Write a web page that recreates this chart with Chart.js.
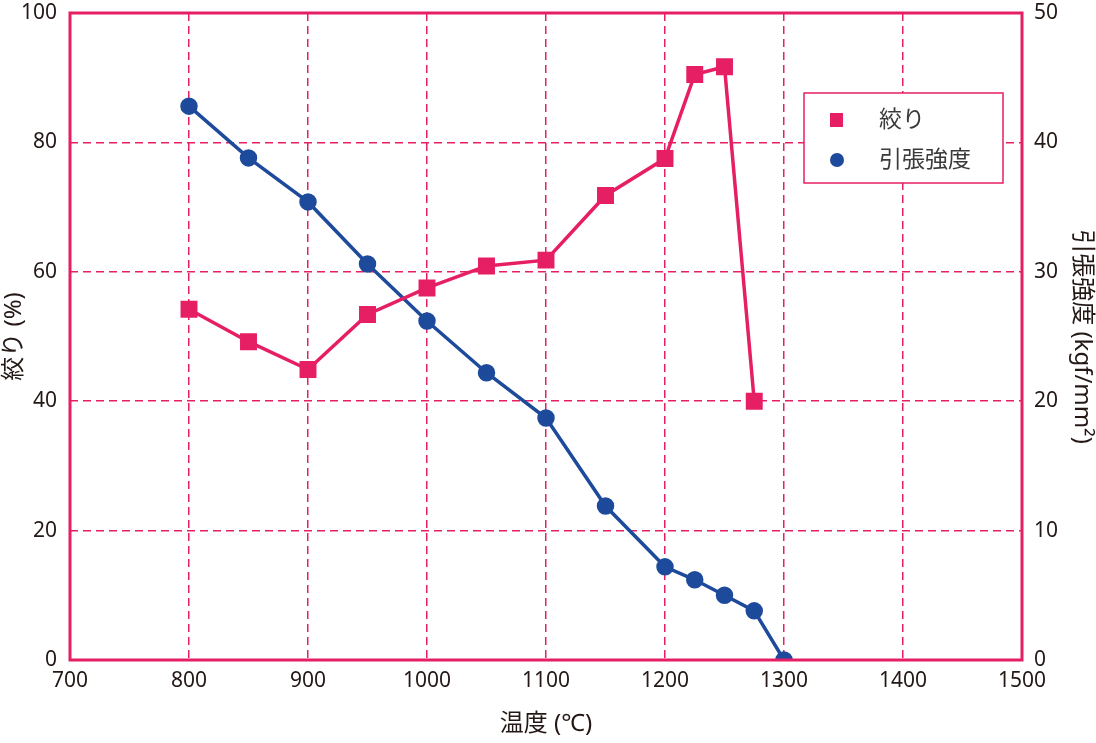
<!DOCTYPE html>
<html><head><meta charset="utf-8">
<script src="https://cdn.jsdelivr.net/npm/chart.js@4"></script>
<style>html,body{margin:0;padding:0;background:#fff}#wrap{width:1096px;height:743px}</style>
</head><body><div id="wrap"><canvas id="c" width="1096" height="743"></canvas></div>
<script>
const temps = [800, 850, 900, 950, 1000, 1050, 1100, 1150, 1200, 1225, 1250, 1275, 1300];
const shiboriValues = [54.2, 49.2, 44.9, 53.4, 57.5, 60.9, 61.8, 71.8, 77.5, 90.5, 91.7, 40.0];
const strengthValues = [42.8, 38.8, 35.4, 30.6, 26.2, 22.2, 18.7, 11.9, 7.2, 6.2, 5.0, 3.8, 0];
const xTicks = [700, 800, 900, 1000, 1100, 1200, 1300, 1400, 1500];
const leftTicks = [0, 20, 40, 60, 80, 100];
const rightTicks = [0, 10, 20, 30, 40, 50];
const labels = ['絞り', '引張強度'];
const axisTitles = {x: '温度 (℃)', y: '絞り (%)', y2: '引張強度 (kgf/mm²)'};

const RED = '#e61f64', BLUE = '#1d4a9b', TXT = '#231815';
const FONT = '"Noto Sans", "Noto Sans CJK JP", sans-serif';

const frame = {
  id: 'frame',
  afterDraw(chart) {
    const {ctx, chartArea: a} = chart;
    ctx.save();
    ctx.strokeStyle = RED; ctx.lineWidth = 3;
    ctx.strokeRect(a.left, a.top, a.right - a.left, a.bottom - a.top);
    // legend
    const lx = 804, ly = 93, lw = 199, lh = 90;
    ctx.fillStyle = '#fff'; ctx.fillRect(lx, ly, lw, lh);
    ctx.lineWidth = 1.5; ctx.strokeRect(lx, ly, lw, lh);
    ctx.fillStyle = RED; ctx.fillRect(830, 113, 13, 14);
    ctx.fillStyle = BLUE; ctx.beginPath(); ctx.arc(837, 160, 7, 0, Math.PI*2); ctx.fill();
    ctx.fillStyle = '#3a3a3a'; ctx.font = '23px ' + FONT; ctx.textBaseline = 'middle';
    ctx.fillText(labels[0], 879, 120);
    ctx.fillText(labels[1], 879, 160);
    ctx.restore();
  }
};

const noPadY = s => { s.paddingTop = 0; s.paddingBottom = 0; };

new Chart(document.getElementById('c'), {
  type: 'line',
  data: {
    datasets: [
      {label: labels[0], data: shiboriValues.map((v,i)=>({x: temps[i], y: v})), yAxisID: 'y',
       borderColor: RED, backgroundColor: RED, borderWidth: 3.5, pointStyle: 'rect', pointRadius: 9.5, pointHoverRadius: 9.5, tension: 0},
      {label: labels[1], data: strengthValues.map((v,i)=>({x: temps[i], y: v})), yAxisID: 'y2',
       borderColor: BLUE, backgroundColor: BLUE, borderWidth: 3.5, pointStyle: 'circle', pointRadius: 7, pointHoverRadius: 7, tension: 0}
    ]
  },
  options: {
    responsive: false, animation: false,
    layout: {padding: {top: 10, left: 0, right: 0, bottom: 0}},
    plugins: {legend: {display: false}, tooltip: {enabled: false}},
    scales: {
      x: {type: 'linear', min: 700, max: 1500,
          afterBuildTicks: s => { s.ticks = xTicks.map(v => ({value: v})); },
          afterFit: s => { s.height = 83; s.paddingLeft = 0; s.paddingRight = 0; },
          grid: {color: c => (c.tick && (c.tick.value === 700 || c.tick.value === 1500)) ? 'rgba(0,0,0,0)' : RED, lineWidth: 1.5, drawTicks: false},
          border: {display: false, dash: [8, 5]},
          ticks: {color: TXT, font: {size: 21, family: FONT}, padding: 8, maxRotation: 0, callback: v => String(v)},
          title: {display: true, text: axisTitles.x, color: TXT, font: {size: 24, family: FONT}, padding: {top: 2}}},
      y: {type: 'linear', position: 'left', min: 0, max: 100,
          afterBuildTicks: s => { s.ticks = leftTicks.map(v => ({value: v})); },
          afterFit: s => { s.width = 70; noPadY(s); },
          grid: {color: c => (c.tick && (c.tick.value === 0 || c.tick.value === 100)) ? 'rgba(0,0,0,0)' : RED, lineWidth: 1.5, drawTicks: false},
          border: {display: false, dash: [8, 5]},
          ticks: {color: TXT, font: {size: 21, family: FONT}, padding: 13, callback: v => String(v)},
          title: {display: true, text: axisTitles.y, color: TXT, font: {size: 24, family: FONT}, padding: 0}},
      y2: {type: 'linear', position: 'right', min: 0, max: 50,
          afterBuildTicks: s => { s.ticks = rightTicks.map(v => ({value: v})); },
          afterFit: s => { s.width = 74; noPadY(s); },
          grid: {display: false, drawTicks: false},
          border: {display: false},
          ticks: {color: TXT, font: {size: 21, family: FONT}, padding: 12, callback: v => String(v)},
          title: {display: true, text: axisTitles.y2, color: TXT, font: {size: 24, family: FONT}, padding: 0}}
    }
  },
  plugins: [frame]
});
</script></body></html>
